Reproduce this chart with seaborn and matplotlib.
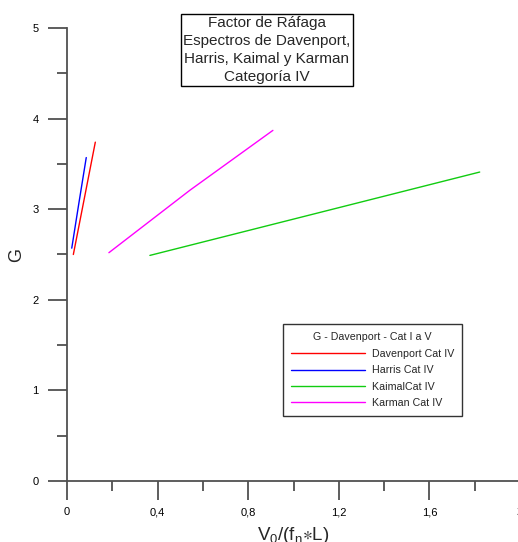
import matplotlib
matplotlib.use("Agg")
import matplotlib.pyplot as plt
import seaborn as sns
import pandas as pd
from matplotlib.ticker import FixedLocator, FixedFormatter, MultipleLocator
from matplotlib.lines import Line2D

# Data
davenport_x = [0.028, 0.075, 0.125]
davenport_y = [2.50, 3.10, 3.74]
harris_x = [0.021, 0.052, 0.085]
harris_y = [2.57, 3.06, 3.57]
kaimal_x = [0.366, 1.094, 1.822]
kaimal_y = [2.49, 2.95, 3.41]
karman_x = [0.185, 0.543, 0.909]
karman_y = [2.52, 3.21, 3.87]

series_names = ["Davenport Cat IV", "Harris Cat IV", "KaimalCat IV", "Karman Cat IV"]
series_colors = ["#ff0000", "#0000ff", "#11cc11", "#ff00ff"]
x_ticks = [0, 0.4, 0.8, 1.2, 1.6, 2.0]
x_ticklabels = ["0", "0,4", "0,8", "1,2", "1,6", "2"]
y_ticks = [0, 1, 2, 3, 4, 5]
y_ticklabels = ["0", "1", "2", "3", "4", "5"]

frames = []
for name, xs, ys in zip(series_names,
                        [davenport_x, harris_x, kaimal_x, karman_x],
                        [davenport_y, harris_y, kaimal_y, karman_y]):
    frames.append(pd.DataFrame({"x": xs, "y": ys, "serie": name}))
df = pd.concat(frames, ignore_index=True)

sns.set_theme(style="white")
plt.rcParams["font.family"] = ["Liberation Sans", "DejaVu Sans"]
plt.rcParams["mathtext.default"] = "regular"

fig = plt.figure(figsize=(5.18, 5.42), dpi=100)
ax = fig.add_axes([67 / 518, 61 / 542, 453 / 518, 453 / 542])

sns.lineplot(data=df, x="x", y="y", hue="serie", palette=dict(zip(series_names, series_colors)),
             sort=False, estimator=None, linewidth=1.0, ax=ax, legend=False)

ax.set_xlim(0, 2)
ax.set_ylim(0, 5)
spine_col = "#505050"
for s in ["top", "right"]:
    ax.spines[s].set_visible(False)
for s in ["left", "bottom"]:
    ax.spines[s].set_color(spine_col)
    ax.spines[s].set_linewidth(1.3)

ax.xaxis.set_major_locator(FixedLocator(x_ticks))
ax.xaxis.set_major_formatter(FixedFormatter(x_ticklabels))
ax.yaxis.set_major_locator(FixedLocator(y_ticks))
ax.yaxis.set_major_formatter(FixedFormatter(y_ticklabels))
ax.xaxis.set_minor_locator(MultipleLocator(0.2))
ax.yaxis.set_minor_locator(MultipleLocator(0.5))
ax.tick_params(which="major", direction="out", length=13.5, width=1.3, color=spine_col,
               labelsize=8, labelcolor="#000000", bottom=True, left=True)
ax.tick_params(which="minor", direction="out", length=7, width=1.3, color=spine_col, bottom=True, left=True)
ax.tick_params(axis="x", which="major", pad=5.5)
ax.tick_params(axis="y", which="major", pad=7)

ax.set_xlabel("V$_0$/(f$_n$$\\ast$L)", fontsize=13.5)
ax.xaxis.set_label_coords(0.5, -0.097)
ax.set_ylabel("G", fontsize=13)
ax.yaxis.set_label_coords(-0.0927, 0.5)

handles = [Line2D([0], [0], color=c, lw=1.0) for c in series_colors]
leg = ax.legend(handles, series_names, title="G - Davenport - Cat I a V",
                loc="upper left", bbox_to_anchor=(0.477, 0.346), borderaxespad=0,
                fontsize=7.7, title_fontsize=7.7, handlelength=6.9, handletextpad=0.65,
                labelspacing=0.58, frameon=True, fancybox=False, edgecolor="black",
                borderpad=0.75)
leg.get_frame().set_linewidth(1.0)
leg._legend_box.sep = 5

fig.text(267 / 518, 1 - 49.8 / 542,
         "Factor de Ráfaga\nEspectros de Davenport,\nHarris, Kaimal y Karman\nCategoría IV",
         ha="center", va="center", fontsize=11, linespacing=1.36,
         bbox=dict(boxstyle="square,pad=0.15", facecolor="white", edgecolor="black", linewidth=1.0))

fig.savefig("out.png", dpi=100)
